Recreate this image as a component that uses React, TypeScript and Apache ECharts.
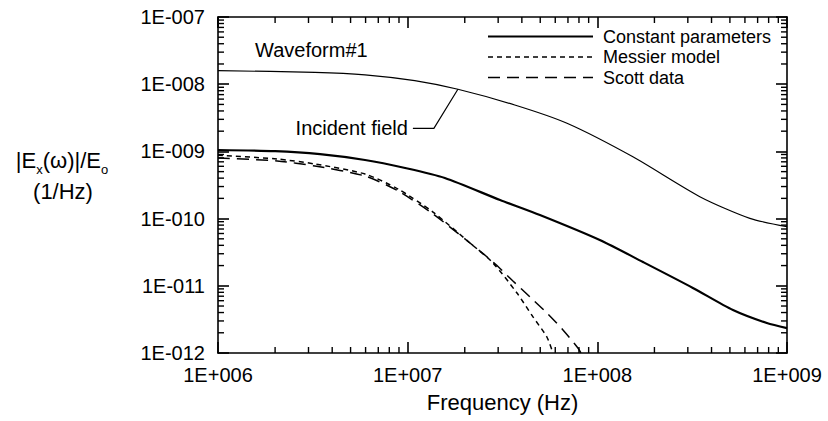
import React, { useEffect, useRef } from "react";
import * as echarts from "echarts";

// ---- data ----
const incidentFreq = [1e6, 3.24e6, 5.96e6, 1.09e7, 1.84e7, 3.67e7, 6.92e7, 1.54e8, 3.47e8, 6.37e8, 1e9];
const incidentVal = [1.59e-8, 1.5e-8, 1.38e-8, 1.13e-8, 8.4e-9, 4.9e-9, 2.62e-9, 8.3e-10, 2.12e-10, 1.01e-10, 7.6e-11];

const constFreq = [1e6, 2.0e6, 3.45e6, 5.96e6, 9.7e6, 1.57e7, 3.07e7, 4.98e7, 1.03e8, 1.74e8, 3.19e8, 5.19e8, 7.83e8, 1e9];
const constVal = [1.05e-9, 1.01e-9, 9.1e-10, 7.45e-10, 5.66e-10, 4.02e-10, 1.89e-10, 1.13e-10, 4.8e-11, 2.26e-11, 9.3e-12, 4.36e-12, 2.79e-12, 2.35e-12];

const messierFreq = [1e6, 2.05e6, 3.24e6, 5.96e6, 8.9e6, 1.36e7, 2.13e7, 2.82e7, 3.77e7, 4.58e7, 5.42e7, 5.83e7];
const messierVal = [8.8e-10, 7.7e-10, 6.5e-10, 4.6e-10, 2.75e-10, 1.25e-10, 4.34e-11, 2.18e-11, 7.8e-12, 3.44e-12, 1.73e-12, 1.0e-12];

const scottFreq = [1e6, 2.05e6, 3.24e6, 5.96e6, 8.9e6, 1.36e7, 2.13e7, 2.82e7, 3.59e7, 4.42e7, 5.42e7, 6.59e7, 7.9e7, 8.2e7];
const scottVal = [7.98e-10, 7.2e-10, 6.07e-10, 4.3e-10, 2.58e-10, 1.17e-10, 4.34e-11, 2.26e-11, 1.18e-11, 6.8e-12, 3.94e-12, 2.2e-12, 1.19e-12, 1.0e-12];

const xDecades = [1e6, 1e7, 1e8];
const yDecades = [1e-12, 1e-11, 1e-10, 1e-9, 1e-8];
const minorMultipliers = [2, 3, 4, 5, 6, 7, 8, 9];

const legendNames = ["Constant parameters", "Messier model", "Scott data"];

const X_MIN = 1e6, X_MAX = 1e9, Y_MIN = 1e-12, Y_MAX = 1e-7;
const FONT = "'Liberation Sans', Arial, Helvetica, sans-serif";
const TICK_COLOR = "#000";

const zip = (a: number[], b: number[]) => a.map((v, i) => [v, b[i]]);

const fmtExp = (v: number) => {
  const e = Math.round(Math.log10(v));
  return "1E" + (e < 0 ? "-" : "+") + String(Math.abs(e)).padStart(3, "0");
};

export default function App() {
  const ref = useRef<HTMLDivElement>(null);
  useEffect(() => {
    if (!ref.current) return;
    const chart = echarts.init(ref.current, null, { renderer: "svg" });

    const axisCommon = {
      type: "log" as const,
      logBase: 10,
      axisLine: { show: true, lineStyle: { color: "#000", width: 1.6 } },
      axisTick: { show: true, inside: true, length: 11, lineStyle: { color: TICK_COLOR, width: 1.6 } },
      splitLine: { show: false },
      minorTick: { show: false },
    };

    const lineSeries = (name: string, f: number[], v: number[], width: number, dash: any) => ({
      name,
      type: "line",
      data: zip(f, v),
      smooth: 0.25,
      showSymbol: false,
      symbol: "none",
      lineStyle: { color: "#000", width, type: dash },
    });

    chart.setOption({
      animation: false,
      grid: { left: 218, right: 41, top: 17, bottom: 68 },
      xAxis: [
        {
          ...axisCommon,
          min: X_MIN,
          max: X_MAX,
          position: "bottom",
          axisLabel: { show: true, formatter: fmtExp, color: "#000", fontSize: 20, fontFamily: FONT, margin: 12 },
          name: "Frequency (Hz)",
          nameLocation: "middle",
          nameGap: 38,
          nameTextStyle: { color: "#000", fontSize: 22, fontFamily: FONT },
        },
        { ...axisCommon, min: X_MIN, max: X_MAX, position: "top", axisLabel: { show: false } },
      ],
      yAxis: [
        {
          ...axisCommon,
          min: Y_MIN,
          max: Y_MAX,
          position: "left",
          axisLabel: { show: true, formatter: fmtExp, color: "#000", fontSize: 20, fontFamily: FONT, margin: 13 },
        },
        { ...axisCommon, min: Y_MIN, max: Y_MAX, position: "right", axisLabel: { show: false } },
      ],
      series: [
        lineSeries("Incident field", incidentFreq, incidentVal, 1.2, "solid"),
        lineSeries(legendNames[0], constFreq, constVal, 2.2, "solid"),
        lineSeries(legendNames[1], messierFreq, messierVal, 1.5, [5, 4]),
        lineSeries(legendNames[2], scottFreq, scottVal, 1.5, [12, 7]),
      ],
    });

    const px = (p: number[]) => chart.convertToPixel({ xAxisIndex: 0, yAxisIndex: 0 }, p) as number[];
    const bl = px([X_MIN, Y_MIN]);
    const tr = px([X_MAX, Y_MAX]);
    const left = bl[0], bottom = bl[1], right = tr[0], top = tr[1];

    // minor tick marks (2..9 per decade) on all four sides, placed through the axis scales
    const segs: number[][] = [];
    xDecades.forEach((d) =>
      minorMultipliers.forEach((m) => {
        const x = px([m * d, Y_MIN])[0];
        segs.push([x, bottom, x, bottom - 6]);
        segs.push([x, top, x, top + 6]);
      })
    );
    yDecades.forEach((d) =>
      minorMultipliers.forEach((m) => {
        const y = px([X_MIN, m * d])[1];
        segs.push([left, y, left + 6, y]);
        segs.push([right, y, right - 6, y]);
      })
    );
    const ticks = segs.map((s) => ({
      type: "line",
      shape: { x1: s[0], y1: s[1], x2: s[2], y2: s[3] },
      style: { stroke: TICK_COLOR, lineWidth: 1.4 },
    }));

    // annotation anchored on the incident-field curve
    const tip = px([incidentFreq[4], incidentVal[4]]);
    const legendX = 488, legendY = 36.5, legendGap = 20.5;
    const legendDash = [null, [5, 4], [12, 7]];
    const legendWidth = [2.2, 1.5, 1.5];

    chart.setOption({
      graphic: [
        ...ticks,
        {
          type: "text",
          x: 62,
          y: 160,
          style: {
            text: "|E{s|x}(ω)|/E{s|o}",
            fill: "#000",
            fontSize: 22,
            fontFamily: FONT,
            align: "center",
            verticalAlign: "middle",
            rich: { s: { fontSize: 13, fontFamily: FONT, verticalAlign: "bottom", padding: [0, 0, -5, 0] } },
          },
        },
        {
          type: "text",
          x: 63,
          y: 191,
          style: { text: "(1/Hz)", fill: "#000", fontSize: 22, fontFamily: FONT, align: "center", verticalAlign: "middle" },
        },
        {
          type: "text",
          x: 255,
          y: 50,
          style: { text: "Waveform#1", fill: "#000", fontSize: 20, fontFamily: FONT, align: "left", verticalAlign: "middle" },
        },
        {
          type: "text",
          x: tip[0] - 50,
          y: tip[1] + 39,
          style: { text: "Incident field", fill: "#000", fontSize: 20, fontFamily: FONT, align: "right", verticalAlign: "middle" },
        },
        {
          type: "polyline",
          shape: { points: [[tip[0] - 45, tip[1] + 39], [tip[0] - 24, tip[1] + 39], [tip[0], tip[1]]] },
          style: { stroke: "#000", lineWidth: 1.2, fill: null },
        },
        ...legendNames.flatMap((name, i) => [
          {
            type: "line",
            shape: { x1: legendX, y1: legendY + i * legendGap, x2: legendX + 105, y2: legendY + i * legendGap },
            style: { stroke: "#000", lineWidth: legendWidth[i], lineDash: legendDash[i] },
          },
          {
            type: "text",
            x: legendX + 115,
            y: legendY + i * legendGap,
            style: { text: name, fill: "#000", fontSize: 18, fontFamily: FONT, align: "left", verticalAlign: "middle" },
          },
        ]),
      ],
    });

    return () => chart.dispose();
  }, []);

  return (
    <div
      ref={ref}
      style={{ position: "fixed", left: 0, top: 0, width: 828, height: 421, background: "#fff" }}
    />
  );
}
